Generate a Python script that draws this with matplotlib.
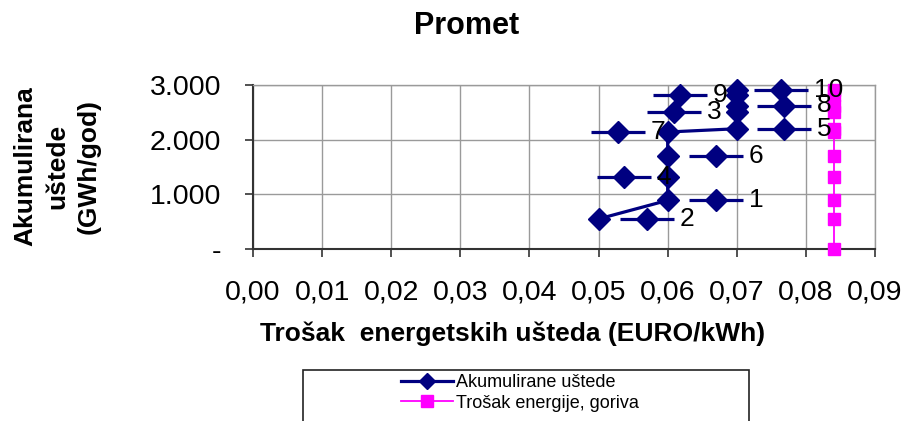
import matplotlib
matplotlib.use("Agg")
import matplotlib.pyplot as plt
from matplotlib.lines import Line2D
from matplotlib.patches import Rectangle
from matplotlib.transforms import offset_copy

plt.rcParams['font.family'] = ['Liberation Sans', 'DejaVu Sans']

# measures, sorted by cost
measure_ids = ['2', '1', '4', '6', '7', '5', '3', '8', '9', '10']
cost = [0.05, 0.06, 0.06, 0.06, 0.06, 0.07, 0.07, 0.07, 0.07, 0.07]
cum_savings = [550, 890, 1320, 1710, 2140, 2200, 2510, 2625, 2820, 2900]

energy_cost = 0.084
energy_levels = [0] + cum_savings

x_ticks = [0.00, 0.01, 0.02, 0.03, 0.04, 0.05, 0.06, 0.07, 0.08, 0.09]
y_ticks = [0, 1000, 2000, 3000]

# where the data label (legend key + number) sits, in points from its point
label_dx = [35, 35, -31.5, 35, -35.5, 34, -45, 34, -41, 32]

NAVY = '#000080'
MAGENTA = '#FF00FF'
GRID = '#9a9a9a'

fig = plt.figure(figsize=(9.06, 4.21), dpi=100)
ax = fig.add_axes([253 / 906, 1 - 249 / 421, 622 / 906, 164 / 421])

ax.plot(cost, cum_savings, color=NAVY, lw=2.3, marker='D', ms=11,
        mec=NAVY, mfc=NAVY, zorder=3, clip_on=False)
ax.plot([energy_cost] * len(energy_levels), energy_levels, color=MAGENTA,
        lw=1.3, marker='s', ms=9, mec=MAGENTA, mfc=MAGENTA, zorder=4,
        clip_on=False)

# data labels with legend key
for xv, yv, num, dx in zip(cost, cum_savings, measure_ids, label_dx):
    tr = offset_copy(ax.transData, fig=fig, x=dx, y=0, units='points')
    ax.plot(xv, yv, marker='_', ms=39, mew=2.3, color=NAVY, transform=tr,
            zorder=3, clip_on=False)
    ax.plot(xv, yv, marker='D', ms=11, color=NAVY, transform=tr, zorder=3,
            clip_on=False)
    ax.annotate(num, (xv, yv), xytext=(dx + 23.5, 0), textcoords='offset points',
                ha='left', va='center', fontsize=19, zorder=5)

ax.set_xlim(0, 0.09)
ax.set_ylim(0, 3000)
ax.set_xticks(x_ticks)
ax.set_xticklabels([f"{v:.2f}".replace('.', ',') for v in x_ticks])
ax.set_yticks(y_ticks)
ax.set_yticklabels(['-' if v == 0 else f"{v:,}".replace(',', '.') for v in y_ticks])
ax.tick_params(axis='both', direction='out', length=6, width=1.2,
               color='#333333', labelsize=20.5)
ax.tick_params(axis='x', pad=16)
ax.tick_params(axis='y', pad=17)

ax.grid(True, color=GRID, lw=1)
ax.set_axisbelow(True)
for side in ['top', 'right']:
    ax.spines[side].set_color(GRID)
    ax.spines[side].set_linewidth(1)
for side in ['left', 'bottom']:
    ax.spines[side].set_color('#333333')
    ax.spines[side].set_linewidth(1.5)

fig.text(467 / 906, 1 - 26 / 421, 'Promet', ha='center', va='center',
         fontsize=22, fontweight='bold')
fig.text(513 / 906, 1 - 334 / 421, 'Trošak  energetskih ušteda (EURO/kWh)',
         ha='center', va='center', fontsize=19, fontweight='bold')
fig.text(57 / 906, 1 - 166 / 421, 'Akumulirana\nuštede\n(GWh/god)',
         ha='center', va='center', rotation=90, multialignment='center',
         linespacing=1.38, fontsize=19, fontweight='bold')

# legend box
fig.patches.append(Rectangle((303 / 906, -0.05), (749 - 303) / 906,
                             (1 - 370 / 421) + 0.05, transform=fig.transFigure,
                             fill=False, ec='#222222', lw=1.2))
handles = [
    Line2D([], [], color=NAVY, lw=2.3, marker='D', ms=8),
    Line2D([], [], color=MAGENTA, lw=1.3, marker='s', ms=9),
]
fig.legend(handles, ['Akumulirane uštede', 'Trošak energije, goriva'],
           loc='upper left', bbox_to_anchor=(401 / 906, 1 - 374 / 421),
           frameon=False, fontsize=13, handlelength=2.9, handletextpad=0.17,
           labelspacing=0.2, borderaxespad=0, borderpad=0)

fig.savefig('out.png', dpi=100)
